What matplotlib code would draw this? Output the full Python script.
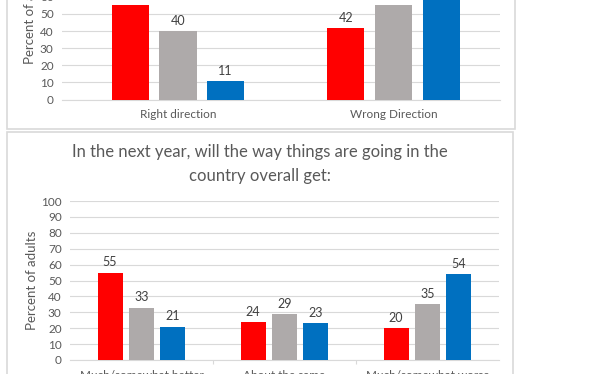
import matplotlib.pyplot as plt
from matplotlib.patches import Rectangle

# top chart (cut off at the top of the screenshot)
top_categories = ["Right direction", "Wrong Direction"]
top_red = [55, 42]
top_grey = [40, 55]
top_blue = [11, 86]

# bottom chart
bottom_title = "In the next year, will the way things are going in the\ncountry overall get:"
bottom_categories = ["Much/somewhat better", "About the same", "Much/somewhat worse"]
bottom_red = [55, 24, 20]
bottom_grey = [33, 29, 35]
bottom_blue = [21, 23, 54]

yticks = list(range(0, 101, 10))

RED = "#ff0000"
GREY = "#aeaaaa"
BLUE = "#0070c0"
GRID = "#d9d9d9"
TEXT = "#595959"
LABEL = "#404040"

plt.rcParams['font.family'] = ['Lato', 'DejaVu Sans']

W, H = 612, 374
fig = plt.figure(figsize=(W / 100, H / 100), dpi=100)
fig.patch.set_facecolor("white")


def px_axes(left, right, y0, y_top):
    # y0 = pixel row of value 0, y_top = pixel row of value 100
    ax = fig.add_axes([left / W, 1 - y0 / H, (right - left) / W, (y0 - y_top) / H])
    ax.set_zorder(2)
    return ax


def draw_bars(ax, cats, series, width, step, label_size):
    x = list(range(len(cats)))
    for k, (vals, col) in enumerate(series):
        off = (k - 1) * step
        bars = ax.bar([i + off for i in x], vals, width=width, color=col, zorder=3)
        for b, v in zip(bars, vals):
            ax.annotate(str(v), (b.get_x() + b.get_width() / 2, v), xytext=(0, 3),
                        textcoords="offset points", ha="center", va="bottom",
                        fontsize=label_size, color=LABEL, clip_on=False)
    ax.set_ylim(0, 100)
    ax.set_yticks(yticks)
    ax.set_xticks(x)
    ax.set_xticklabels(cats)
    ax.yaxis.grid(True, color=GRID, linewidth=0.8, zorder=0)
    for s in ["top", "right", "left"]:
        ax.spines[s].set_visible(False)
    ax.spines["bottom"].set_color(GRID)
    ax.spines["bottom"].set_linewidth(0.8)
    ax.tick_params(axis="y", length=0, labelsize=8.5, labelcolor=TEXT, pad=6)
    ax.tick_params(axis="x", length=0, labelsize=8.5, labelcolor=TEXT, pad=7)
    ax.set_facecolor("none")


# panel frames
fig.patches.append(Rectangle((7 / W, 1 - 129 / H), 508 / W, 140 / H, transform=fig.transFigure,
                             facecolor="white", edgecolor=GRID, linewidth=1.2, zorder=0))
fig.patches.append(Rectangle((7 / W, -10 / H), 506 / W, (374 - 132 + 10) / H, transform=fig.transFigure,
                             facecolor="white", edgecolor=GRID, linewidth=1.2, zorder=0))

# top chart
ax1 = px_axes(62, 500, 99.5, 99.5 - 171)
draw_bars(ax1, top_categories, [(top_red, RED), (top_grey, GREY), (top_blue, BLUE)],
          0.172, 0.221, 9)
ax1.set_xlim(-0.538, 1.494)
ax1.set_ylabel("Percent of adults", fontsize=9.5, color=TEXT)
ax1.yaxis.set_label_coords(-0.059, 0.5)

# bottom chart
ax2 = px_axes(70, 499, 360, 201)
draw_bars(ax2, bottom_categories, [(bottom_red, RED), (bottom_grey, GREY), (bottom_blue, BLUE)],
          0.175, 0.22, 9)
ax2.set_xlim(-0.5, 2.5)
ax2.set_xticks([0.5, 1.5], minor=True)
ax2.tick_params(axis="x", which="minor", length=3, color=GRID, width=0.8)
ax2.set_ylabel("Percent of adults", fontsize=9.5, color=TEXT)
ax2.yaxis.set_label_coords(-0.075, 0.5)

fig.text(260 / W, 1 - 164 / H, bottom_title, ha="center", va="center",
         fontsize=12, color=TEXT, linespacing=1.55)

fig.savefig("out.png", dpi=100)
